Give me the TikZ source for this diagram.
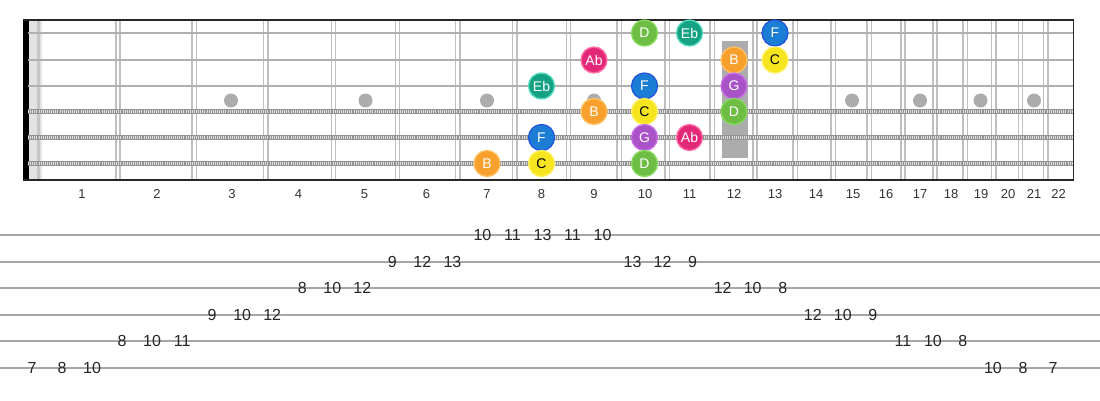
\documentclass[tikz,border=0pt]{standalone}
\usepackage{fontspec}
\setmainfont{Liberation Sans}

\definecolor{fillD}{HTML}{6EBE46}
\definecolor{ringD}{HTML}{86DC5A}
\definecolor{fillEb}{HTML}{15A283}
\definecolor{ringEb}{HTML}{55DCBE}
\definecolor{fillF}{HTML}{1B7DD3}
\definecolor{ringF}{HTML}{2456DC}
\definecolor{fillG}{HTML}{AA52C8}
\definecolor{ringG}{HTML}{C870E6}
\definecolor{fillC}{HTML}{F5E41E}
\definecolor{ringC}{HTML}{FFF060}
\definecolor{fillB}{HTML}{F7A02D}
\definecolor{ringB}{HTML}{FFC060}
\definecolor{fillAb}{HTML}{E42878}
\definecolor{ringAb}{HTML}{FF70A8}

\tikzset{
	fretline/.style={draw=gray!50, line width=1.5pt},
	plainstring/.style={draw=gray!62, line width=2.8pt},
	woundbase/.style={draw=gray!85, line width=5pt},
	woundwire/.style={draw=gray!25, line width=3pt, dash pattern=on 1pt off 1.1pt},
	border/.style={draw=black!85, line width=1.8pt},
	inlay/.style={circle, fill=gray!65, minimum size=14pt, inner sep=0pt},
	fretnum/.style={text=black!80, font=\fontsize{13}{13}\selectfont},
	tabline/.style={draw=gray!70, line width=2pt},
	tabnum/.style={text=black!85, font=\fontsize{16}{16}\selectfont, inner sep=0pt},
	note/.style={circle, minimum size=26pt, inner sep=0pt, line width=1.3pt, text=white, font=\fontsize{14}{14}\selectfont},
	noteD/.style={note, fill=fillD, draw=ringD},
	noteEb/.style={note, fill=fillEb, draw=ringEb},
	noteF/.style={note, fill=fillF, draw=ringF},
	noteG/.style={note, fill=fillG, draw=ringG},
	noteC/.style={note, fill=fillC, draw=ringC, text=black},
	noteB/.style={note, fill=fillB, draw=ringB},
	noteAb/.style={note, fill=fillAb, draw=ringAb},
}

\begin{document}
\begin{tikzpicture}[x=1pt,y=-1pt]
	\useasboundingbox[fill=white] (0,0) rectangle (1100,400);

	\fill[black] (23,20) rectangle (28.5,180);
	\fill[gray!22] (28.5,20) rectangle (42,180);
	\draw[gray!45, line width=3.5pt] (38.5,20) -- (38.5,180);

	\foreach \fx in {118.0,194.1,265.8,333.5,397.5,457.8,514.7,568.5,619.2,667.1,712.3,755.0,795.3,833.3,869.2,903.0,935.0,965.2,993.6,1020.5,1045.9} {
		\draw[fretline] (\fx-2.2,20) -- (\fx-2.2,180);
		\draw[fretline] (\fx+2.2,20) -- (\fx+2.2,180);
	}

	\foreach \fx/\n in {231/3,365.5/5,487/7,594/9,852/15,920/17,980.5/19,1034/21}
		\node[inlay] (dot\n) at (\fx,100.5) {};
	\fill[gray!65] (722,41) rectangle (748,158);

	\coordinate (s1a) at (28,33);   \coordinate (s1b) at (1073,33);
	\coordinate (s2a) at (28,60);   \coordinate (s2b) at (1073,60);
	\coordinate (s3a) at (28,86);   \coordinate (s3b) at (1073,86);
	\coordinate (s4a) at (28,111.5); \coordinate (s4b) at (1073,111.5);
	\coordinate (s5a) at (28,137.5); \coordinate (s5b) at (1073,137.5);
	\coordinate (s6a) at (28,163.5); \coordinate (s6b) at (1073,163.5);

	\draw[plainstring] (s1a) -- (s1b);
	\draw[plainstring] (s2a) -- (s2b);
	\draw[plainstring] (s3a) -- (s3b);
	\draw[woundbase] (s4a) -- (s4b);
	\draw[woundwire] (s4a) -- (s4b);
	\draw[woundbase] (s5a) -- (s5b);
	\draw[woundwire] (s5a) -- (s5b);
	\draw[woundbase] (s6a) -- (s6b);
	\draw[woundwire] (s6a) -- (s6b);

	\coordinate (tl) at (23,20);
	\coordinate (tr) at (1073.5,20);
	\coordinate (br) at (1073.5,180);
	\coordinate (bl) at (23,180);
	\draw[border] (tl) -- (tr) -- (br) -- (bl);

	\node[noteD] (d1) at (644.5,33) {D};
	\node[noteEb] (eb1) at (689.5,33) {Eb};
	\node[noteF] (f1) at (775,33) {F};
	\node[noteAb] (ab2) at (594,60) {Ab};
	\node[noteB] (b2) at (734,60) {B};
	\node[noteC] (c2) at (775,60) {C};
	\node[noteEb] (eb3) at (541.5,86) {Eb};
	\node[noteF] (f3) at (644.5,86) {F};
	\node[noteG] (g3) at (734,86) {G};
	\node[noteB] (b4) at (594,111.5) {B};
	\node[noteC] (c4) at (644.5,111.5) {C};
	\node[noteD] (d4) at (734,111.5) {D};
	\node[noteF] (f5) at (541.5,137.5) {F};
	\node[noteG] (g5) at (644.5,137.5) {G};
	\node[noteAb] (ab5) at (689.5,137.5) {Ab};
	\node[noteB] (b6) at (487,163.5) {B};
	\node[noteC] (c6) at (541.5,163.5) {C};
	\node[noteD] (d6) at (644.5,163.5) {D};

	\foreach \fx/\n in {82/1,157/2,232/3,298.5/4,364.5/5,426.5/6,487/7,541.5/8,594/9,645/10,689.5/11,734/12,775/13,816/14,853/15,886/16,920/17,951/18,981/19,1008/20,1034/21,1058.5/22}
		\node[fretnum] (n\n) at (\fx,194) {\n};

	\coordinate (l1a) at (0,235);   \coordinate (l1b) at (1100,235);
	\coordinate (l2a) at (0,261.5); \coordinate (l2b) at (1100,261.5);
	\coordinate (l3a) at (0,288);   \coordinate (l3b) at (1100,288);
	\coordinate (l4a) at (0,314.5); \coordinate (l4b) at (1100,314.5);
	\coordinate (l5a) at (0,341);   \coordinate (l5b) at (1100,341);
	\coordinate (l6a) at (0,367.5); \coordinate (l6b) at (1100,367.5);
	\draw[tabline] (l1a) -- (l1b);
	\draw[tabline] (l2a) -- (l2b);
	\draw[tabline] (l3a) -- (l3b);
	\draw[tabline] (l4a) -- (l4b);
	\draw[tabline] (l5a) -- (l5b);
	\draw[tabline] (l6a) -- (l6b);

	\foreach \k/\v in {15/10,16/11,17/13,18/11,19/10}
		\node[tabnum] (t1-\k) at ({32+30.03*\k},235) {\v};
	\foreach \k/\v in {12/9,13/12,14/13,20/13,21/12,22/9}
		\node[tabnum] (t2-\k) at ({32+30.03*\k},261.5) {\v};
	\foreach \k/\v in {9/8,10/10,11/12,23/12,24/10,25/8}
		\node[tabnum] (t3-\k) at ({32+30.03*\k},288) {\v};
	\foreach \k/\v in {6/9,7/10,8/12,26/12,27/10,28/9}
		\node[tabnum] (t4-\k) at ({32+30.03*\k},314.5) {\v};
	\foreach \k/\v in {3/8,4/10,5/11,29/11,30/10,31/8}
		\node[tabnum] (t5-\k) at ({32+30.03*\k},341) {\v};
	\foreach \k/\v in {0/7,1/8,2/10,32/10,33/8,34/7}
		\node[tabnum] (t6-\k) at ({32+30.03*\k},367.5) {\v};

\end{tikzpicture}
\end{document}
